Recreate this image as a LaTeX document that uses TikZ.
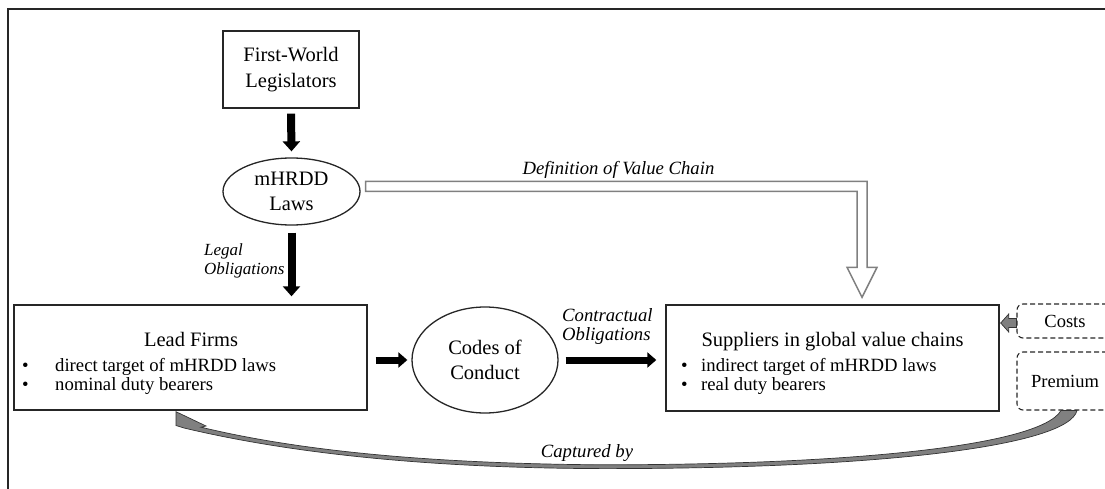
\documentclass[tikz,border=0pt]{standalone}
\usepackage{fontspec}
\setmainfont{Liberation Serif}
\usetikzlibrary{arrows.meta,calc,shapes.geometric}
\begin{document}
\begin{tikzpicture}[x=1pt,y=-1pt,
  box/.style={draw=black!85, line width=1.4pt, rectangle, inner sep=0pt, align=center, font=\fontsize{20.5}{25.5}\selectfont},
  ell/.style={draw=black!85, line width=1.3pt, ellipse, inner sep=0pt, align=center, font=\fontsize{20.5}{25.5}\selectfont},
  dbox/.style={draw=black!85, line width=1.1pt, dash pattern=on 5pt off 3pt, rounded corners=6pt, rectangle, inner sep=0pt, font=\fontsize{18.5}{22}\selectfont},
  lbl/.style={font=\fontsize{18.7}{19.5}\selectfont\itshape, inner sep=0pt, align=left},
  ttl/.style={font=\fontsize{20.5}{25}\selectfont, inner sep=0pt, anchor=base},
  itm/.style={font=\fontsize{18.7}{19}\selectfont, inner sep=0pt, anchor=base west},
  blkv/.style={line width=8pt, draw=black, -{Triangle[length=10pt,width=17pt]}},
  blkh/.style={line width=7pt, draw=black, -{Triangle[length=9pt,width=15pt]}},
  gfill/.style={fill=black!50, draw=black!80, line width=0.7pt, line join=miter},
  hollow/.style={fill=white, draw=black!50, line width=1.5pt, line join=miter}
]
\useasboundingbox (0,0) rectangle (1105,489);
\clip (0,0) rectangle (1105,489);

% outer frame (cropped)
\draw[line width=1.8pt, black!85] (8,495) -- (8,9) -- (1112,9);

% nodes
\node[box, minimum width=136pt, minimum height=77pt] (fw) at (291,69.5) {First-World\\Legislators};
\node[ell, minimum width=137pt, minimum height=67pt] (mh) at (291.5,191.5) {mHRDD\\Laws};
\node[box, minimum width=353pt, minimum height=105pt] (lf) at (190.5,357.5) {};
\node[ell, minimum width=146pt, minimum height=106pt] (cc) at (485,360) {Codes of\\Conduct};
\node[box, minimum width=333pt, minimum height=106pt] (sup) at (832.5,358) {};
\node[dbox, minimum width=96pt, minimum height=34pt] (costs) at (1065,321) {Costs};
\node[dbox, minimum width=96pt, minimum height=58pt] (prem) at (1065,381) {Premium};

% box contents
\node[ttl] (lft) at (191,346) {Lead Firms};
\node[itm] (lb1) at (22,371.5) {\textbullet};
\node[itm] (lt1) at (55,371.5) {direct target of mHRDD laws};
\node[itm] (lb2) at (22,390) {\textbullet};
\node[itm] (lt2) at (55,390) {nominal duty bearers};

\node[ttl] (supt) at (832.5,346) {Suppliers in global value chains};
\node[itm] (sb1) at (681,371.5) {\textbullet};
\node[itm] (st1) at (701,371.5) {indirect target of mHRDD laws};
\node[itm] (sb2) at (681,390) {\textbullet};
\node[itm] (st2) at (701,390) {real duty bearers};

% labels
\node[lbl, anchor=north west, font=\fontsize{17}{19}\selectfont\itshape] (legal) at (204,244) {Legal\\Obligations};
\node[lbl, anchor=north west] (contr) at (562,308) {Contractual\\Obligations};
\node[lbl, anchor=base] (defvc) at (618.5,175) {Definition of Value Chain};
\node[lbl, anchor=base] (capt) at (587,457) {Captured by};

% black arrows
\draw[blkv] ($(fw.south)+(0,5)$) -- ($(mh.north)+(0,-6)$);
\draw[blkv] ($(mh.south)+(0,7)$) -- ($(mh.south |- lf.north)+(0,-8)$);
\draw[blkh] ($(lf.east |- cc.west)+(8,0)$) -- ($(cc.west)+(-4,0)$);
\draw[blkh] ($(cc.east)+(7,0)$) -- ($(sup.west |- cc.east)+(-9,0)$);

% hollow arrow: Definition of Value Chain
\coordinate (dvs) at ($(mh.east)+(5,0)$);
\coordinate (dve) at ($(sup.north)+(29.5,-7)$);
\filldraw[hollow]
  ($(dvs)+(0,-10)$) -- ($(dvs -| dve)+(5,-10)$) -- ($(dve)+(5,-30)$) -- ($(dve)+(15,-30)$)
  -- (dve) -- ($(dve)+(-15,-30)$) -- ($(dve)+(-5,-30)$) -- ($(dvs -| dve)+(-5,0)$) -- (dvs) -- cycle;

% costs arrow
\coordinate (ca) at (costs.west);
\coordinate (cb) at ($(sup.east |- costs.west)+(0,2)$);
\filldraw[gfill]
  ($(ca)+(0,-2.5)$) -- ($(cb)+(9,-4.5)$) -- ($(cb)+(9,-9)$) -- ($(cb)+(1,0)$)
  -- ($(cb)+(9,9)$) -- ($(cb)+(9,4.5)$) -- ($(ca)+(0,6.5)$) -- cycle;

% captured-by curved arrow
\coordinate (cpt) at ($(lf.south)+(-14.5,1)$);
\coordinate (cpa) at ($(prem.south)+(-4,0)$);
\filldraw[gfill]
  (cpt) -- (206,426) -- (201,427.2)
  .. controls (300,451) and (430,463.5) .. (600,464.8)
  .. controls (850,465) and (1040,446) .. (cpa)
  -- ($(cpa)+(16,0)$)
  .. controls (1068,446) and (880,469) .. (600,468.6)
  .. controls (420,468) and (285,452) .. (184,428)
  -- (176,425.5) -- cycle;
\end{tikzpicture}
\end{document}
